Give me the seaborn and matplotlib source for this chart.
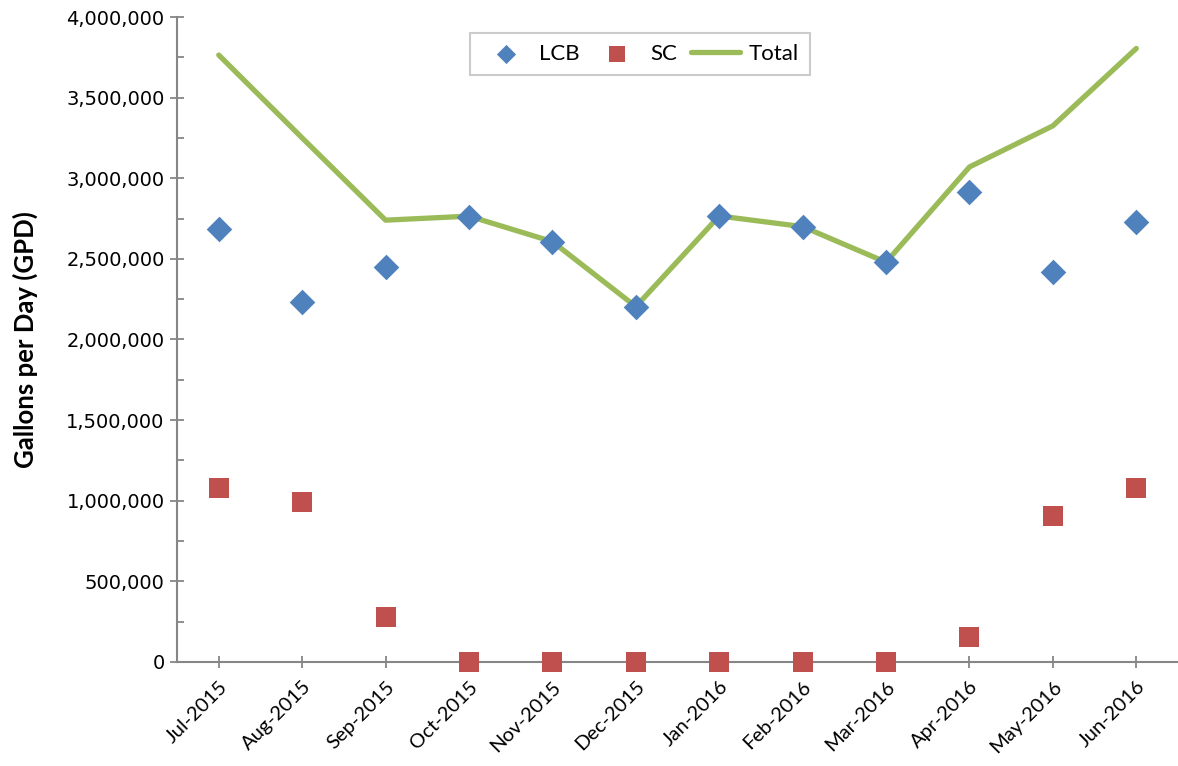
import pandas as pd
import matplotlib.pyplot as plt
import matplotlib.ticker as mticker
import seaborn as sns

# Monthly flow values (gallons per day)
months = ["Jul-2015", "Aug-2015", "Sep-2015", "Oct-2015", "Nov-2015", "Dec-2015",
          "Jan-2016", "Feb-2016", "Mar-2016", "Apr-2016", "May-2016", "Jun-2016"]
lcb = [2683000, 2234000, 2452000, 2762000, 2607000, 2204000,
       2766000, 2700000, 2479000, 2917000, 2421000, 2727000]
sc = [1077000, 994000, 281000, 0, 0, 0,
      0, 0, 0, 153000, 905000, 1077000]
total = [3764000, 3250000, 2740000, 2765000, 2607000, 2204000,
         2766000, 2700000, 2479000, 3070000, 3325000, 3805000]

df = pd.DataFrame({"Month": months, "LCB": lcb, "SC": sc, "Total": total})
df["pos"] = range(len(df))

sns.set_style("white")
plt.rcParams['font.family'] = ['DejaVu Sans']
plt.rcParams['text.color'] = 'black'
plt.rcParams['xtick.labelcolor'] = 'black'
plt.rcParams['ytick.labelcolor'] = 'black'
plt.rcParams['axes.labelcolor'] = 'black'

fig = plt.figure(figsize=(11.78, 7.66), dpi=100)
ax = fig.add_axes([0.1503, 0.1358, 0.8497, 0.842])

axis_grey = "#868686"

# Total line
sns.lineplot(data=df, x="pos", y="Total", color="#9bbb59", linewidth=3.8,
             sort=False, ax=ax, label="Total", zorder=2)
# LCB diamonds
sns.scatterplot(data=df, x="pos", y="LCB", marker="D", s=170, color="#4f81bd",
                linewidth=0, ax=ax, label="LCB", zorder=3, clip_on=False)
# SC squares
sns.scatterplot(data=df, x="pos", y="SC", marker="s", s=210, color="#c0504d",
                linewidth=0, ax=ax, label="SC", zorder=3, clip_on=False)

ax.set_xlim(-0.5, 11.5)
ax.set_ylim(0, 4000000)
ax.set_xticks(df["pos"])
ax.set_xticklabels(months, rotation=45, ha="right", rotation_mode="anchor",
                   fontsize=14.5, family="Lato", color="black")
ax.yaxis.set_major_locator(mticker.MultipleLocator(500000))
ax.yaxis.set_minor_locator(mticker.MultipleLocator(250000))
ax.yaxis.set_major_formatter(mticker.FuncFormatter(lambda v, p: f"{v:,.0f}"))
ax.tick_params(axis="y", which="major", direction="inout", length=10, width=1.3,
               color=axis_grey, labelsize=14, pad=4, left=True)
ax.tick_params(axis="y", which="minor", direction="in", length=5, width=1.3,
               color=axis_grey, left=True)
ax.tick_params(axis="x", direction="inout", length=9, width=1.3,
               color=axis_grey, pad=7, bottom=True)

ax.set_xlabel("")
ax.set_ylabel("Gallons per Day (GPD)", fontsize=18.5, fontweight="bold",
              family="Lato", labelpad=20, color="black")

sns.despine(ax=ax)
for side in ["left", "bottom"]:
    ax.spines[side].set_color(axis_grey)
    ax.spines[side].set_linewidth(1.5)

# Legend order: LCB, SC, Total
handles, labels = ax.get_legend_handles_labels()
order = [labels.index(n) for n in ["LCB", "SC", "Total"]]
leg = ax.legend([handles[i] for i in order], [labels[i] for i in order],
                ncol=3, loc="upper center", bbox_to_anchor=(0.4625, 0.975),
                borderaxespad=0, markerscale=0.75,
                frameon=True, fancybox=False, edgecolor="#bfbfbf",
                prop={"family": "Lato", "size": 16}, handlelength=2.2,
                columnspacing=0.6, borderpad=0.5, handletextpad=0.4)
leg.get_frame().set_linewidth(1.5)

fig.savefig("out.png", dpi=100)
